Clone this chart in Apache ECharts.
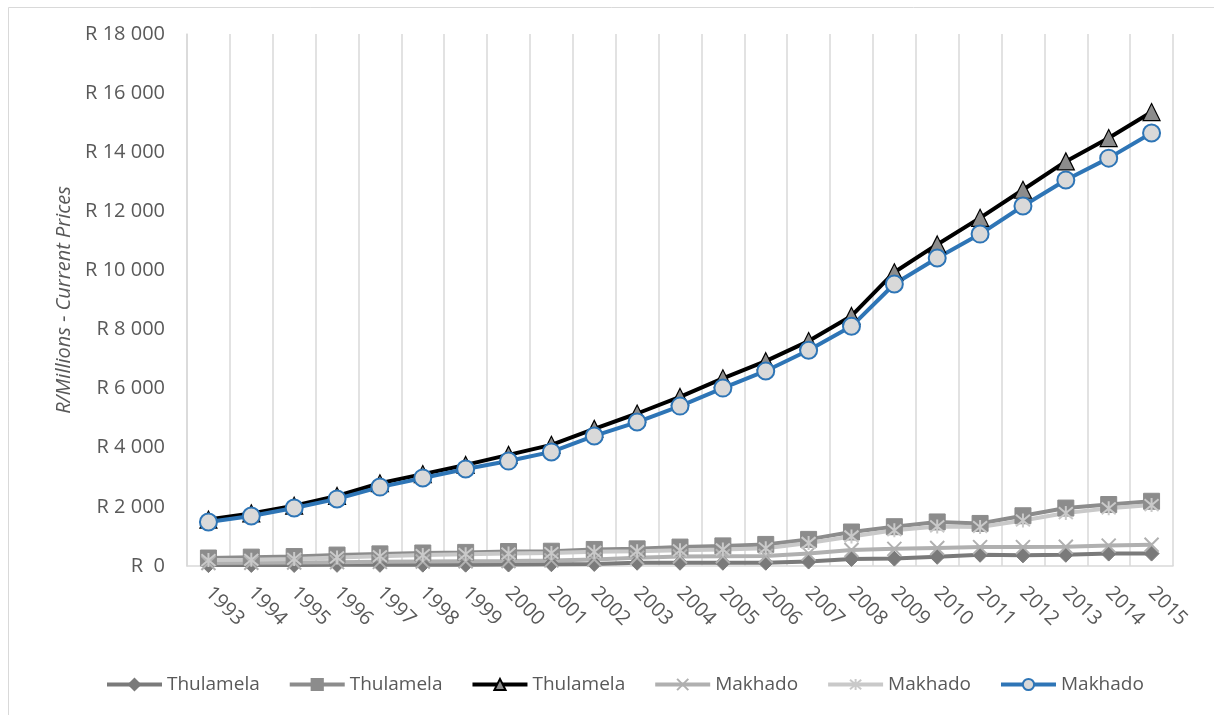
<!DOCTYPE html>
<html>
<head>
<meta charset="utf-8">
<script src="https://cdn.jsdelivr.net/npm/echarts@6/dist/echarts.min.js"></script>
<style>
html,body{margin:0;padding:0;background:#fff;}
#chart{width:1214px;height:715px;}
</style>
</head>
<body>
<div id="chart"></div>
<script>
const years = ['1993','1994','1995','1996','1997','1998','1999','2000','2001','2002','2003','2004','2005','2006','2007','2008','2009','2010','2011','2012','2013','2014','2015'];
const yTitle = 'R/Millions - Current Prices';
const seriesNames = ['Thulamela','Thulamela','Thulamela','Makhado','Makhado','Makhado'];
// Thulamela (diamond)
const thulamelaDiamond = [30,35,35,40,40,45,45,50,60,70,110,110,110,110,150,240,250,310,380,360,380,420,420];
// Thulamela (square)
const thulamelaSquare = [270,300,320,370,410,440,460,490,500,560,580,640,680,730,900,1150,1330,1490,1440,1700,1960,2080,2190];
// Thulamela (triangle)
const thulamelaTriangle = [1570,1780,2040,2370,2800,3110,3420,3760,4100,4640,5160,5720,6350,6930,7610,8460,9940,10880,11780,12730,13690,14480,15360];
// Makhado (x)
const makhadoX = [100,110,120,130,140,150,160,170,190,220,280,320,330,340,420,540,580,610,640,640,650,690,720];
// Makhado (star)
const makhadoStar = [200,210,240,290,330,370,400,420,440,480,500,530,560,600,780,1000,1210,1340,1320,1540,1790,1950,2060];
// Makhado (circle)
const makhadoCircle = [1490,1690,1960,2270,2670,2980,3280,3550,3860,4400,4870,5410,6020,6600,7300,8110,9540,10420,11230,12180,13060,13800,14650];

const FONT = '"Open Sans", "Noto Sans", sans-serif';
const TXT = '#595959';

const xPath = 'path://M0,0 L10,10 M10,0 L0,10';
const starPath = 'path://M0,0 L10,10 M10,0 L0,10 M5,-1 L5,11';

function fmt(v){
  if (v === 0) return 'R  0';
  const s = String(v);
  return 'R ' + s.replace(/\B(?=(\d{3})+(?!\d))/g, ' ');
}

const LW = 4;
const chart = echarts.init(document.getElementById('chart'));
chart.setOption({
  animation: false,
  backgroundColor: '#fff',
  graphic: [{
    type: 'rect', left: 6, top: 5, silent: true,
    shape: {width: 1230, height: 730},
    style: {fill: 'none', stroke: '#d9d9d9', lineWidth: 1}
  }],
  grid: {left: 187, right: 41, top: 34, bottom: 149, containLabel: false},
  legend: {
    left: 100, bottom: 16,
    itemWidth: 55, itemHeight: 14, itemGap: 28,
    lineStyle: {width: 4},
    textStyle: {fontFamily: FONT, fontSize: 19, color: TXT},
    data: [0,1,2,3,4,5].map(i => ({name: 'S' + i})),
    formatter: function(n){ return seriesNames[+n.slice(1)]; }
  },
  xAxis: {
    type: 'category', data: years, boundaryGap: true,
    axisLine: {show: true, lineStyle: {color: '#d9d9d9', width: 1.5}},
    axisTick: {show: false},
    splitLine: {show: true, lineStyle: {color: '#d9d9d9', width: 1.5}},
    axisLabel: {rotate: -45, margin: 24, fontFamily: FONT, fontSize: 20, color: TXT, interval: 0}
  },
  yAxis: {
    type: 'value', min: 0, max: 18000, interval: 2000,
    name: yTitle, nameLocation: 'middle', nameGap: 112, nameRotate: 90,
    nameTextStyle: {fontFamily: FONT, fontSize: 20, color: TXT, fontStyle: 'italic'},
    axisLine: {show: true, lineStyle: {color: '#d9d9d9', width: 1.5}},
    axisTick: {show: false},
    splitLine: {show: false},
    axisLabel: {formatter: fmt, margin: 22, fontFamily: FONT, fontSize: 20, color: TXT}
  },
  series: [
    {name: 'S0', type: 'line', data: thulamelaDiamond, symbol: 'diamond', symbolSize: 15,
     lineStyle: {color: '#7a7a7a', width: LW}, itemStyle: {color: '#7a7a7a', borderColor: '#7a7a7a', borderWidth: 1}},
    {name: 'S1', type: 'line', data: thulamelaSquare, symbol: 'rect', symbolSize: 16,
     lineStyle: {color: '#8c8c8c', width: LW}, itemStyle: {color: '#8c8c8c', borderColor: '#8c8c8c', borderWidth: 1}},
    {name: 'S2', type: 'line', data: thulamelaTriangle, symbol: 'triangle', symbolSize: 17,
     lineStyle: {color: '#000000', width: LW}, itemStyle: {color: '#8c8c8c', borderColor: '#000000', borderWidth: 1.2}},
    {name: 'S3', type: 'line', data: makhadoX, symbol: xPath, symbolSize: 14,
     lineStyle: {color: '#b0b0b0', width: LW}, itemStyle: {color: '#b0b0b0', borderColor: '#b0b0b0', borderWidth: 2}},
    {name: 'S4', type: 'line', data: makhadoStar, symbol: starPath, symbolSize: 14,
     lineStyle: {color: '#c9c9c9', width: LW}, itemStyle: {color: '#c9c9c9', borderColor: '#c9c9c9', borderWidth: 2}},
    {name: 'S5', type: 'line', data: makhadoCircle, symbol: 'circle', symbolSize: 17,
     lineStyle: {color: '#2e75b6', width: LW}, itemStyle: {color: '#d9d9d9', borderColor: '#2e75b6', borderWidth: 2}}
  ]
});
</script>
</body>
</html>
